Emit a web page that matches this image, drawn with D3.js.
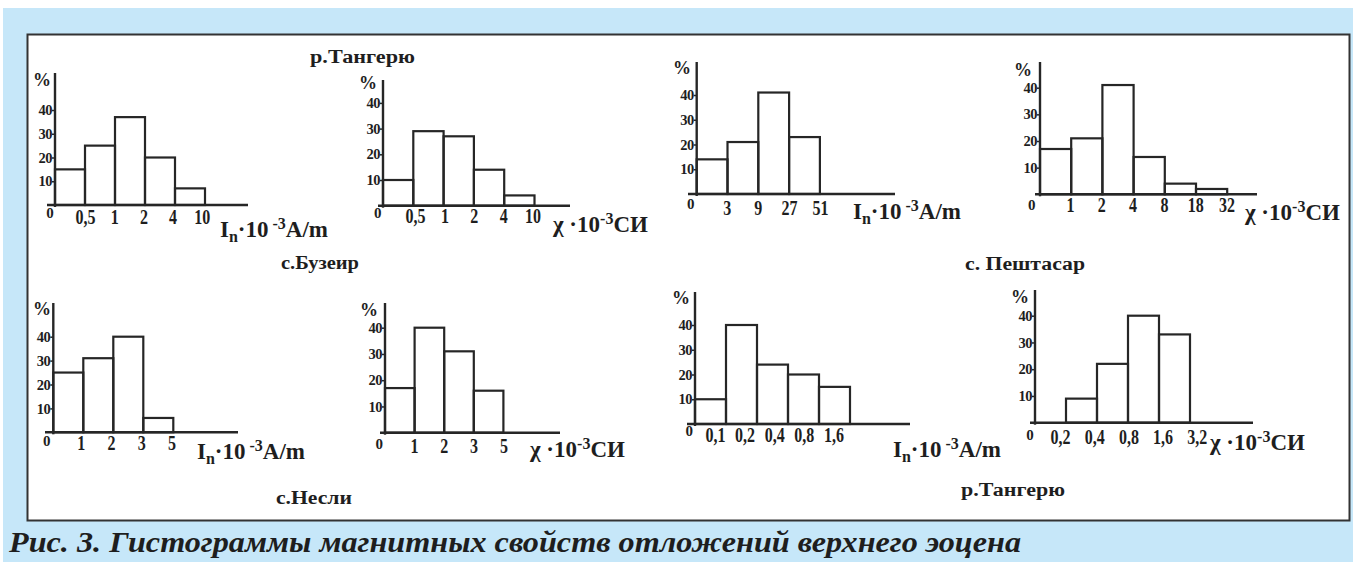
<!DOCTYPE html>
<html><head><meta charset="utf-8">
<script src="https://cdn.jsdelivr.net/npm/d3@7/dist/d3.min.js"></script>
<style>
html,body{margin:0;padding:0;background:#fff;}
svg{display:block;}
text{font-weight:bold;fill:#1e1e1e;}
</style></head>
<body>
<svg id="c" width="1353" height="562"></svg>
<script>
// ---- data ----
const yTicks = [10, 20, 30, 40];

const p1Labels = ["0", "0,5", "1", "2", "4", "10"];
const p1Values = [15, 25, 37, 20, 7];

const p2Labels = ["0", "0,5", "1", "2", "4", "10"];
const p2Values = [10, 29, 27, 14, 4];

const p3Labels = ["0", "3", "9", "27", "51"];
const p3Values = [14, 21, 41, 23];

const p4Labels = ["0", "1", "2", "4", "8", "18", "32"];
const p4Values = [17, 21, 41, 14, 4, 2];

const p5Labels = ["0", "1", "2", "3", "5"];
const p5Values = [25, 31, 40, 6];

const p6Labels = ["0", "1", "2", "3", "5"];
const p6Values = [17, 40, 31, 16];

const p7Labels = ["0", "0,1", "0,2", "0,4", "0,8", "1,6"];
const p7Values = [10, 40, 24, 20, 15];

const p8Labels = ["0", "0,2", "0,4", "0,8", "1,6", "3,2"];
const p8Values = [0, 9, 22, 40, 33];

const stationNames = ["р.Тангерю", "с.Бузеир", "с. Пештасар", "с.Несли", "р.Тангерю"];
const captionText = "Рис. 3. Гистограммы магнитных свойств отложений верхнего эоцена";

// ---- font detection ----
function hasFont(name) {
  const ctx = document.createElement("canvas").getContext("2d");
  const s = "абвгдеЖЗИю 0123456789 mwiIlW";
  for (const base of ["monospace", "sans-serif", "serif"]) {
    ctx.font = `bold 40px ${base}`;
    const w0 = ctx.measureText(s).width;
    ctx.font = `bold 40px "${name}", ${base}`;
    const w1 = ctx.measureText(s).width;
    if (Math.abs(w0 - w1) > 0.5) return true;
  }
  return false;
}
const serifCands = ["Liberation Serif", "Times New Roman", "Tinos", "Nimbus Roman", "FreeSerif", "Times", "DejaVu Serif Condensed", "DejaVu Serif"];
let SERIF = "serif";
for (const f of serifCands) { if (hasFont(f)) { SERIF = `"${f}", serif`; break; } }

// narrow a text horizontally around its anchor x (Times-like proportions)
function narrow(sel, sx) {
  sel.each(function () {
    const xv = parseFloat(this.getAttribute("x")) || 0;
    this.setAttribute("transform", `translate(${xv * (1 - sx)},0) scale(${sx},1)`);
  });
}

// ---- layout ----
const svg = d3.select("#c");
const INK = "#262626";

svg.append("rect").attr("x", 0).attr("y", 0).attr("width", 1353).attr("height", 562).attr("fill", "#fff");
svg.append("rect").attr("x", 3).attr("y", 8).attr("width", 1350).attr("height", 554).attr("fill", "#c6e7f9");
svg.append("rect").attr("x", 27.5).attr("y", 34.5).attr("width", 1322).attr("height", 486)
  .attr("fill", "#fff").attr("stroke", "#333").attr("stroke-width", 2);

const panels = [
  {labels: p1Labels, values: p1Values, x0: 55, base: 205, binW: 30, k: 2.375, top: 73, bx: [47, 248], lx0: 55.8, lstep: 29.2, ly: 217, zero: [50, 213], pct: [42, 80], title: [220, 230], type: "I"},
  {labels: p2Labels, values: p2Values, x0: 383, base: 205.7, binW: 30.3, k: 2.57, top: 80, bx: [378, 570], lx0: 385.6, lstep: 29.4, ly: 216, zero: [377.7, 213], pct: [368, 83], title: [553, 225], type: "chi"},
  {labels: p3Labels, values: p3Values, x0: 696.7, base: 194, binW: 30.8, k: 2.475, top: 62, bx: [688, 895], lx0: 695.6, lstep: 31.1, ly: 208, zero: [690.7, 204], pct: [682, 68], title: [853, 212], type: "I"},
  {labels: p4Labels, values: p4Values, x0: 1040, base: 194.3, binW: 31.2, k: 2.665, top: 62, bx: [1035, 1257], lx0: 1038.7, lstep: 31.3, ly: 205, zero: [1031.7, 205], pct: [1023, 70], title: [1245, 213], type: "chi"},
  {labels: p5Labels, values: p5Values, x0: 53.3, base: 432.3, binW: 30, k: 2.39, top: 303, bx: [45, 238], lx0: 50.4, lstep: 30.3, ly: 443, zero: [46.7, 441], pct: [42, 309], title: [197, 452], type: "I"},
  {labels: p6Labels, values: p6Values, x0: 385, base: 432.7, binW: 29.6, k: 2.625, top: 303, bx: [380, 560], lx0: 384.2, lstep: 29.8, ly: 446, zero: [379.3, 444], pct: [369, 310], title: [530, 450], type: "chi"},
  {labels: p7Labels, values: p7Values, x0: 695, base: 424, binW: 31, k: 2.475, top: 292, bx: [687, 910], lx0: 685.4, lstep: 29.6, ly: 435, zero: [689.3, 431], pct: [681, 298], title: [893, 450], type: "I"},
  {labels: p8Labels, values: p8Values, x0: 1035, base: 422.7, binW: 31, k: 2.675, top: 290, bx: [1030, 1253], lx0: 1025.8, lstep: 34.2, ly: 437, zero: [1030, 435], pct: [1020, 297], title: [1210, 443], type: "chi"}
];

panels.forEach(p => {
  const n = p.values.length;
  const g = svg.append("g");
  const x = d3.scaleLinear().domain([0, n]).range([p.x0, p.x0 + n * p.binW]);
  const y = d3.scaleLinear().domain([0, 40]).range([p.base, p.base - 40 * p.k]);
  const lx = d3.scaleLinear().domain([0, n]).range([p.lx0, p.lx0 + n * p.lstep]);

  g.selectAll("rect.bar").data(p.values).join("rect")
    .attr("class", "bar")
    .attr("x", (d, i) => x(i))
    .attr("y", d => y(d))
    .attr("width", (d, i) => x(i + 1) - x(i))
    .attr("height", d => y(0) - y(d))
    .attr("fill", "none").attr("stroke", d => d > 0 ? INK : "none").attr("stroke-width", 2.2);

  g.append("line").attr("x1", p.bx[0]).attr("x2", p.bx[1]).attr("y1", p.base).attr("y2", p.base)
    .attr("stroke", INK).attr("stroke-width", 2.4);
  g.append("line").attr("x1", p.x0).attr("x2", p.x0).attr("y1", p.base + 2).attr("y2", p.top)
    .attr("stroke", INK).attr("stroke-width", 2.4);

  const ya = d3.axisLeft(y).tickValues(yTicks).tickSize(3).tickPadding(0);
  const yg = g.append("g").attr("transform", `translate(${p.x0},0)`).call(ya);
  yg.select(".domain").remove();
  yg.selectAll("line").attr("stroke", INK).attr("stroke-width", 1.5);
  yg.selectAll("text").attr("font-size", 14.5).attr("fill", "#222").attr("letter-spacing", -0.5);

  const xa = d3.axisBottom(lx).tickValues(d3.range(1, n + 1)).tickFormat(i => p.labels[i]).tickSize(0).tickPadding(0);
  const xg = g.append("g").attr("transform", `translate(0,${p.ly})`).call(xa);
  xg.select(".domain").remove();
  xg.selectAll("text").attr("y", 0).attr("dy", "0.35em").attr("font-size", 20).attr("fill", "#1e1e1e");
  narrow(xg.selectAll("text"), 0.8);

  g.append("text").attr("x", p.zero[0]).attr("y", p.zero[1]).attr("dy", "0.35em").attr("text-anchor", "middle")
    .attr("font-size", 15).text(p.labels[0]);
  g.append("text").attr("x", p.pct[0]).attr("y", p.pct[1]).attr("dy", "0.35em").attr("text-anchor", "middle")
    .attr("font-size", 18).text("%");

  const t = g.append("text").attr("x", p.title[0]).attr("y", p.title[1] + 7).attr("font-size", 23);
  if (p.type === "I") {
    t.append("tspan").text("I");
    t.append("tspan").attr("font-size", 16).attr("dy", 5).text("n");
    t.append("tspan").attr("dy", -5).text("·10");
    t.append("tspan").attr("font-size", 16).attr("dy", -8).text(" -3");
    t.append("tspan").attr("dy", 8).text("A/m");
  } else {
    t.append("tspan").text("χ ·10");
    t.append("tspan").attr("font-size", 16).attr("dy", -8).text("-3");
    t.append("tspan").attr("dy", 8).text("СИ");
  }
});

const stationPos = [[310, 57, 105], [281, 263, 78], [965, 264, 120], [276, 498, 76], [961, 490, 104]];
stationNames.forEach((s, i) => {
  svg.append("text").attr("x", stationPos[i][0]).attr("y", stationPos[i][1]).attr("dy", "0.35em")
    .attr("font-size", 18).attr("textLength", stationPos[i][2]).attr("lengthAdjust", "spacingAndGlyphs").text(s);
});

svg.append("text").attr("x", 9).attr("y", 552).attr("font-size", 30).attr("font-style", "italic")
  .attr("fill", "#1c1c2c").attr("textLength", 1012).attr("lengthAdjust", "spacingAndGlyphs").text(captionText);

svg.selectAll("text").style("font-family", SERIF).style("font-weight", "bold");
</script>
</body></html>
